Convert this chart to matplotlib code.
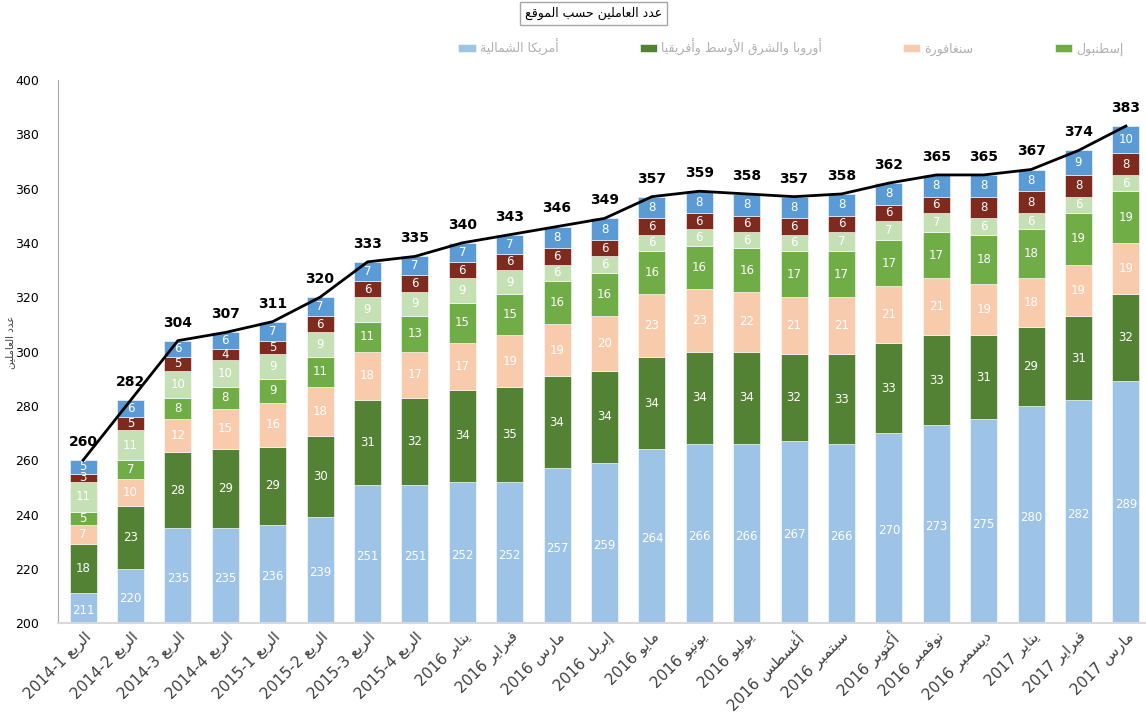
import numpy as np
import matplotlib
matplotlib.use("Agg")
import matplotlib.pyplot as plt

plt.rcParams['font.family'] = ['DejaVu Sans']

# --- small arabic shaper (matplotlib has no shaping / bidi) ---
FORMS = {
    'ا': (0xFE8D, 2), 'أ': (0xFE83, 2), 'إ': (0xFE87, 2), 'ب': (0xFE8F, 4),
    'ة': (0xFE93, 2), 'ت': (0xFE95, 4), 'ح': (0xFEA1, 4), 'د': (0xFEA9, 2),
    'ر': (0xFEAD, 2), 'س': (0xFEB1, 4), 'ش': (0xFEB5, 4), 'ط': (0xFEC1, 4),
    'ع': (0xFEC9, 4), 'غ': (0xFECD, 4), 'ف': (0xFED1, 4), 'ق': (0xFED5, 4),
    'ك': (0xFED9, 4), 'ل': (0xFEDD, 4), 'م': (0xFEE1, 4), 'ن': (0xFEE5, 4),
    'ه': (0xFEE9, 4), 'و': (0xFEED, 2), 'ي': (0xFEF1, 4),
}
LAM_ALEF = {'ا': 0xFEFB, 'أ': 0xFEF7, 'إ': 0xFEF9}


def shape_word(word):
    toks = []
    i = 0
    while i < len(word):
        c = word[i]
        if c == 'ل' and i + 1 < len(word) and word[i + 1] in LAM_ALEF:
            toks.append((LAM_ALEF[word[i + 1]], 2))
            i += 2
            continue
        toks.append(FORMS.get(c, (c, 0)))
        i += 1
    out = []
    for k, (base, n) in enumerate(toks):
        if n == 0:
            out.append(base)
            continue
        jp = k > 0 and toks[k - 1][1] == 4
        jn = n == 4 and k + 1 < len(toks) and toks[k + 1][1] > 0
        if jp and jn:
            off = 3
        elif jp:
            off = 1
        elif jn:
            off = 2
        else:
            off = 0
        out.append(chr(base + off))
    return ''.join(out)


def ar(text):
    # visual (left to right) order for an RTL line
    words = text.split(' ')
    vis = []
    for w in reversed(words):
        if any(ch in FORMS for ch in w):
            vis.append(shape_word(w)[::-1])
        else:
            vis.append(w)
    return ' '.join(vis)


# --- data ---
categories = ['الربع 2014-1', 'الربع 2014-2', 'الربع 2014-3', 'الربع 2014-4',
              'الربع 2015-1', 'الربع 2015-2', 'الربع 2015-3', 'الربع 2015-4',
              'يناير 2016', 'فبراير 2016', 'مارس 2016', 'إبريل 2016', 'مايو 2016',
              'يونيو 2016', 'يوليو 2016', 'أغسطس 2016', 'سبتمبر 2016', 'أكتوبر 2016',
              'نوفمبر 2016', 'ديسمبر 2016', 'يناير 2017', 'فبراير 2017', 'مارس 2017']

north_america = [211, 220, 235, 235, 236, 239, 251, 251, 252, 252, 257, 259, 264,
                 266, 266, 267, 266, 270, 273, 275, 280, 282, 289]
emea = [18, 23, 28, 29, 29, 30, 31, 32, 34, 35, 34, 34, 34, 34, 34, 32, 33, 33, 33,
        31, 29, 31, 32]
singapore = [7, 10, 12, 15, 16, 18, 18, 17, 17, 19, 19, 20, 23, 23, 22, 21, 21, 21,
             21, 19, 18, 19, 19]
istanbul = [5, 7, 8, 8, 9, 11, 11, 13, 15, 15, 16, 16, 16, 16, 16, 17, 17, 17, 17,
            18, 18, 19, 19]
site5 = [11, 11, 10, 10, 9, 9, 9, 9, 9, 9, 6, 6, 6, 6, 6, 6, 7, 7, 7, 6, 6, 6, 6]
site6 = [3, 5, 5, 4, 5, 6, 6, 6, 6, 6, 6, 6, 6, 6, 6, 6, 6, 6, 6, 8, 8, 8, 8]
site7 = [5, 6, 6, 6, 7, 7, 7, 7, 7, 7, 8, 8, 8, 8, 8, 8, 8, 8, 8, 8, 8, 9, 10]
totals = [260, 282, 304, 307, 311, 320, 333, 335, 340, 343, 346, 349, 357, 359,
          358, 357, 358, 362, 365, 365, 367, 374, 383]

series_names = ['أمريكا الشمالية', 'أوروبا والشرق الأوسط وأفريقيا', 'سنغافورة', 'إسطنبول']
series = [north_america, emea, singapore, istanbul, site5, site6, site7]
colors = ['#9DC3E6', '#548235', '#F8CBAD', '#70AD47', '#C5E0B4', '#7E2A1F', '#5B9BD5']

title = 'عدد العاملين حسب الموقع'
ylabel = 'عدد العاملين'

fig = plt.figure(figsize=(11.46, 7.13), dpi=100)
ax = fig.add_axes([0.051, 0.126, 0.948, 0.762])

x = np.arange(len(categories))
bottom = np.zeros(len(categories))
handles = []
for i, vals in enumerate(series):
    vals = np.array(vals)
    bars = ax.bar(x, vals, 0.57, bottom=bottom, color=colors[i],
                  edgecolor='white', linewidth=0.4, zorder=2)
    if i < 4:
        handles.append(bars)
    for xi, b, v in zip(x, bottom, vals):
        # first series starts below the axis floor (200)
        yc = (200 + v) / 2 - 1 if i == 0 else b + v / 2
        ax.text(xi, yc, str(v), ha='center', va='center', color='white',
                fontsize=8.5, zorder=3)
    bottom = bottom + vals

ax.plot(x, totals, color='black', linewidth=2, zorder=4)
for xi, t in zip(x, totals):
    ax.annotate(str(t), (xi, t), xytext=(0, 8), textcoords='offset points',
                ha='center', va='bottom', fontsize=10, fontweight='bold', zorder=5)

ax.set_xlim(-0.52, 22.4)
ax.set_ylim(200, 400)
ax.set_yticks(np.arange(200, 401, 20))
ax.tick_params(axis='y', length=0, labelsize=9, pad=14)
ax.tick_params(axis='x', length=0, pad=4)
ax.set_xticks(x)
ax.set_xticklabels([ar(c) for c in categories], rotation=45, ha='right',
                   rotation_mode='anchor', fontsize=11, color='#404040')
for s in ['top', 'right']:
    ax.spines[s].set_visible(False)
ax.spines['left'].set_color('#A6A6A6')
ax.spines['bottom'].set_color('#D9D9D9')
ax.spines['bottom'].set_linewidth(1.5)

fig.text(0.009, 0.52, ar(ylabel), rotation=90, ha='center', va='center',
         fontsize=7.5, color='#404040')

fig.text(0.518, 0.981, ar(title), ha='center', va='center', fontsize=9,
         bbox=dict(boxstyle='square,pad=0.4', facecolor='white', edgecolor='#A6A6A6'))

leg = fig.legend(handles, [ar(n) for n in series_names], loc='center',
                 bbox_to_anchor=(0.69, 0.934), ncol=4, frameon=False,
                 fontsize=9, handlelength=1.4, handleheight=0.7,
                 columnspacing=6.5, handletextpad=0.3)
for t in leg.get_texts():
    t.set_color('#B0B0B0')

fig.savefig('out.png', dpi=100)
